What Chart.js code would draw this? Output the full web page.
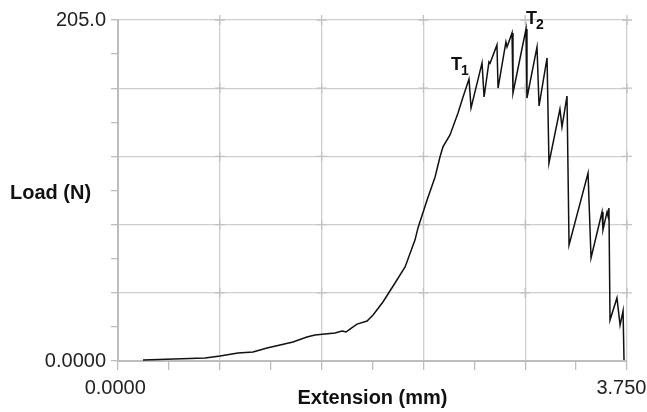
<!DOCTYPE html>
<html>
<head>
<meta charset="utf-8">
<script src="https://cdn.jsdelivr.net/npm/chart.js@4/dist/chart.umd.min.js"></script>
<style>
  html, body { margin: 0; padding: 0; background: #fff; }
  #wrap { width: 647px; height: 412px; }
</style>
</head>
<body>
<div id="wrap"><canvas id="loadChart" width="647" height="412"></canvas></div>
<script>
// extension (mm) and load (N)
var extension = [0.184, 0.641, 0.752, 0.884, 0.995, 1.098, 1.194, 1.289, 1.392, 1.451,
  1.525, 1.599, 1.650, 1.680, 1.709, 1.761, 1.835, 1.879, 1.952, 2.041,
  2.115, 2.188, 2.210, 2.277, 2.336, 2.372, 2.394, 2.446, 2.505, 2.542,
  2.586, 2.601, 2.682, 2.697, 2.733, 2.741, 2.792, 2.800, 2.858, 2.866,
  2.903, 2.910, 3.006, 3.013, 3.087, 3.102, 3.161, 3.175, 3.256, 3.271,
  3.308, 3.323, 3.463, 3.485, 3.566, 3.573, 3.603, 3.610, 3.617, 3.625,
  3.676, 3.699, 3.721, 3.728];
var load = [0.6, 1.8, 3.0, 4.8, 5.4, 7.8, 9.6, 11.4, 14.4, 15.6,
  16.2, 16.8, 18.0, 17.4, 19.2, 22.2, 24.0, 27.7, 35.5, 46.9,
  56.5, 72.7, 80.0, 96.8, 110.6, 122.6, 128.7, 135.9, 149.1, 158.7,
  169.5, 152.1, 179.2, 158.7, 179.8, 179.0, 190.0, 164.1, 191.8, 188.8,
  197.2, 161.1, 199.6, 158.1, 188.8, 153.3, 182.2, 119.0, 151.5, 140.7,
  159.3, 69.7, 113.0, 61.9, 89.6, 78.8, 89.6, 87.2, 92.0, 24.6,
  37.9, 21.6, 30.1, 0.6];

var xTicks = [0, 0.375, 0.75, 1.125, 1.5, 1.875, 2.25, 2.625, 3.0, 3.375, 3.75];
var yTicks = [0, 20.5, 41, 61.5, 82, 102.5, 123, 143.5, 164, 184.5, 205];
var xEndLabels = ['0.0000', '3.750'];
var yEndLabels = ['0.0000', '205.0'];

// marked peaks: [label, subscript, extension, load]
var peakLabels = [['T', '1', 2.586, 169.5], ['T', '2', 3.006, 199.6]];

var points = extension.map(function(x, i) { return { x: x, y: load[i] }; });

var gridColor = '#cfcfcf';
var axisColor = '#bdbdbd';
var font = 'Liberation Sans, Arial, sans-serif';

function gridFor(ctx) {
  return ctx.index % 2 === 0 ? gridColor : 'rgba(0,0,0,0)';
}

// small crosses where the major grid lines meet, like the instrument plot
var crossPlugin = {
  id: 'crossPlugin',
  beforeDatasetsDraw: function(chart) {
    var c = chart.ctx;
    var xs = chart.scales.x, ys = chart.scales.y;
    c.save();
    c.strokeStyle = '#c2c2c2';
    c.lineWidth = 1.3;
    c.beginPath();
    xTicks.forEach(function(xv, i) {
      if (i % 2 !== 0 || i === 0) return;
      yTicks.forEach(function(yv, j) {
        if (j % 2 !== 0 || j === 0) return;
        var px = xs.getPixelForValue(xv), py = ys.getPixelForValue(yv);
        c.moveTo(px - 5, py); c.lineTo(px + 5, py);
        c.moveTo(px, py - 5); c.lineTo(px, py + 5);
      });
    });
    c.stroke();
    c.restore();
  }
};

var textPlugin = {
  id: 'textPlugin',
  afterDraw: function(chart) {
    var c = chart.ctx;
    var area = chart.chartArea;
    var xs = chart.scales.x, ys = chart.scales.y;
    c.save();
    c.fillStyle = '#111';
    c.textBaseline = 'middle';
    c.textAlign = 'left';
    c.font = 'bold 20px ' + font;
    c.fillText('Load (N)', 10, (area.top + area.bottom) / 2 + 3);

    peakLabels.forEach(function(p, i) {
      var px = xs.getPixelForValue(p[2]);
      var py = ys.getPixelForValue(p[3]);
      var tx = i === 0 ? px - 18 : px;
      var ty = i === 0 ? py - 14 : py - 10;
      c.font = 'bold 18px ' + font;
      c.fillText(p[0], tx, ty);
      var w = c.measureText(p[0]).width;
      c.font = 'bold 14px ' + font;
      c.fillText(p[1], tx + w - 1, ty + 6);
    });
    c.restore();
  }
};

new Chart(document.getElementById('loadChart'), {
  type: 'line',
  data: {
    datasets: [{
      data: points,
      borderColor: '#111',
      borderWidth: 1.5,
      pointRadius: 0,
      tension: 0,
      fill: false
    }]
  },
  options: {
    responsive: false,
    animation: false,
    layout: { padding: { top: 20, right: 20, left: 0, bottom: 0 } },
    plugins: { legend: { display: false }, tooltip: { enabled: false } },
    scales: {
      x: {
        type: 'linear',
        min: 0,
        max: 3.75,
        afterBuildTicks: function(scale) {
          scale.ticks = xTicks.map(function(v) { return { value: v }; });
        },
        afterFit: function(scale) {
          scale.height = 51;
          scale.paddingLeft = 0;
          scale.paddingRight = 0;
        },
        border: { color: axisColor, width: 2 },
        grid: { color: gridFor, tickColor: axisColor, tickLength: 9, lineWidth: 1.3 },
        ticks: {
          autoSkip: false,
          maxRotation: 0,
          padding: 6,
          color: '#222',
          font: { family: font, size: 20 },
          callback: function(v, i, t) {
            if (i === 0) return xEndLabels[0] + ' ';
            if (i === t.length - 1) return xEndLabels[1] + '  ';
            return '';
          }
        },
        title: {
          display: true,
          text: 'Extension (mm)',
          color: '#111',
          font: { family: font, size: 20, weight: 'bold' },
          padding: { top: 0, bottom: 2 }
        }
      },
      y: {
        min: 0,
        max: 205,
        afterBuildTicks: function(scale) {
          scale.ticks = yTicks.map(function(v) { return { value: v }; });
        },
        afterFit: function(scale) {
          scale.width = 118;
        },
        border: { color: axisColor, width: 2 },
        grid: { color: gridFor, tickColor: axisColor, tickLength: 7, lineWidth: 1.3 },
        ticks: {
          autoSkip: false,
          padding: 5,
          color: '#222',
          font: { family: font, size: 20 },
          callback: function(v, i, t) {
            if (i === 0) return yEndLabels[0];
            if (i === t.length - 1) return yEndLabels[1];
            return '';
          }
        }
      }
    }
  },
  plugins: [crossPlugin, textPlugin]
});
</script>
</body>
</html>
